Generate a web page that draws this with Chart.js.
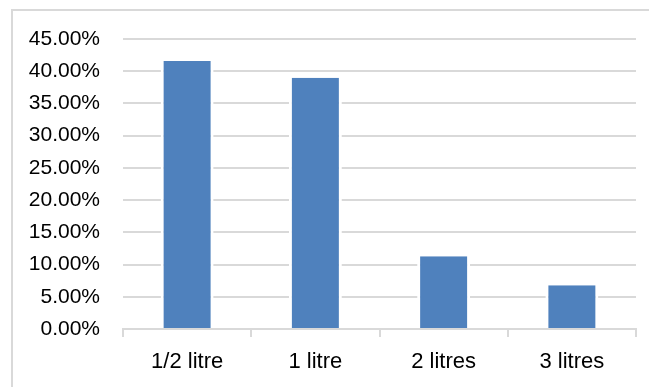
<!DOCTYPE html>
<html>
<head>
<meta charset="utf-8">
<script src="https://cdn.jsdelivr.net/npm/chart.js@4/dist/chart.umd.min.js"></script>
<style>
  html, body { margin: 0; padding: 0; background: #ffffff; overflow: hidden; }
  #wrap { position: relative; width: 649px; height: 387px; overflow: hidden; }
  #frame {
    position: absolute; left: 11px; top: 9px; width: 700px; height: 500px;
    border: 2px solid #d9d9d9; box-sizing: border-box;
  }
  #chart { position: absolute; left: 0; top: 0; }
</style>
</head>
<body>
<div id="wrap">
  <div id="frame"></div>
  <canvas id="chart" width="649" height="387"></canvas>
</div>
<script>
// Bottle sizes and the share of answers for each
const categories = ['1/2 litre', '1 litre', '2 litres', '3 litres'];
const shares = [41.6, 39.0, 11.3, 6.8];
const yTicks = [0, 5, 10, 15, 20, 25, 30, 35, 40, 45];

const fontFamily = '"Liberation Sans", Arial, sans-serif';
const gridGrey = '#d9d9d9';

new Chart(document.getElementById('chart'), {
  type: 'bar',
  data: {
    labels: categories,
    datasets: [{
      data: shares,
      backgroundColor: '#4f81bd',
      borderColor: '#ffffff',
      borderWidth: { left: 3, right: 3, top: 0, bottom: 0 },
      borderSkipped: false,
      barPercentage: 0.413,
      categoryPercentage: 1
    }]
  },
  options: {
    responsive: false,
    animation: false,
    events: [],
    layout: { padding: { top: 39, right: 13, bottom: 0, left: 0 } },
    plugins: { legend: { display: false }, title: { display: false }, tooltip: { enabled: false } },
    scales: {
      y: {
        min: yTicks[0],
        max: yTicks[yTicks.length - 1],
        afterBuildTicks: (scale) => { scale.ticks = yTicks.map(v => ({ value: v })); },
        afterFit: (scale) => { scale.width = 123; },
        ticks: {
          color: '#000000',
          font: { family: fontFamily, size: 21 },
          padding: 23,
          callback: (v) => v.toFixed(2) + '%'
        },
        grid: { color: gridGrey, lineWidth: 2, drawTicks: false },
        border: { display: false }
      },
      x: {
        offset: true,
        afterFit: (scale) => { scale.height = 58; },
        ticks: { color: '#000000', font: { family: fontFamily, size: 22 }, padding: 12, maxRotation: 0 },
        grid: {
          offset: true,
          drawOnChartArea: false,
          drawTicks: true,
          tickLength: 8,
          color: gridGrey,
          lineWidth: 2
        },
        border: { display: true, color: gridGrey, width: 2 }
      }
    }
  }
});
</script>
</body>
</html>
